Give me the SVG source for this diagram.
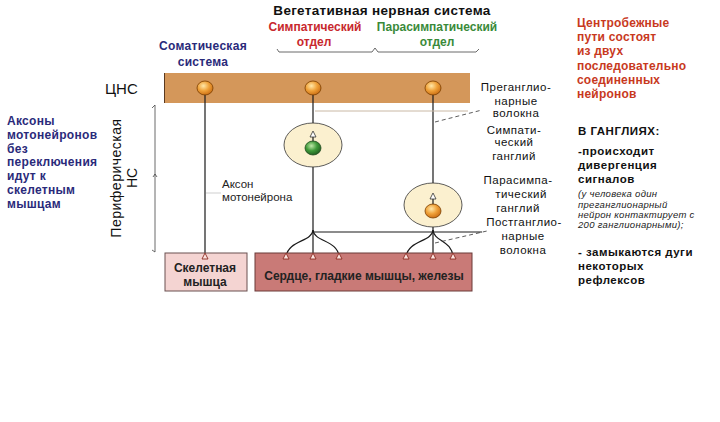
<svg xmlns="http://www.w3.org/2000/svg" width="720" height="422" viewBox="0 0 720 422">
<defs>
<radialGradient id="gOr" cx="0.4" cy="0.35" r="0.7">
<stop offset="0" stop-color="#ffe7a8"/><stop offset="0.5" stop-color="#f0a23a"/><stop offset="1" stop-color="#c86a10"/>
</radialGradient>
<radialGradient id="gGr" cx="0.4" cy="0.35" r="0.7">
<stop offset="0" stop-color="#bfe8a8"/><stop offset="0.5" stop-color="#3f9a3a"/><stop offset="1" stop-color="#1f5a1e"/>
</radialGradient>
<style>
text{font-family:"Liberation Sans",Arial,sans-serif}
.b{font-weight:bold}
.lbl{font-size:11.5px;fill:#111;text-anchor:middle;letter-spacing:0.5px}
.ax{stroke:#1a1a1a;stroke-width:1.2;fill:none}
.thin{stroke:#444;stroke-width:0.8;fill:none}
.dash{stroke:#333;stroke-width:0.8;stroke-dasharray:4 3;fill:none}
.syn{fill:#fbe3e0;stroke:#8a2a20;stroke-width:0.9}
.gang{fill:#fbf0cf;stroke:#333;stroke-width:0.8}
.ball{stroke:#7a3d00;stroke-width:0.8}
.red{fill:#c8391e;font-size:12px;font-weight:bold;letter-spacing:0.2px}
.rt{fill:#111;font-size:11.5px;font-weight:bold;letter-spacing:0.5px}
.it{fill:#222;font-size:9.5px;font-style:italic;letter-spacing:0.3px}
.nav{fill:#2a2a7a;font-size:12px;font-weight:bold;letter-spacing:0.3px}
</style>
</defs>
<rect width="720" height="422" fill="#fff"/>

<g id="title">
<text x="382" y="15" text-anchor="middle" class="b" font-size="13.5" fill="#111" letter-spacing="0.3">Вегетативная нервная система</text>
<text x="315" y="31" text-anchor="middle" class="b" font-size="12" fill="#c8282d">Симпатический</text>
<text x="314" y="46" text-anchor="middle" class="b" font-size="12" fill="#c8282d">отдел</text>
<text x="437" y="31" text-anchor="middle" class="b" font-size="12" fill="#3a8a3a">Парасимпатический</text>
<text x="437" y="46" text-anchor="middle" class="b" font-size="12" fill="#3a8a3a">отдел</text>
<path d="M277,49 L279,52 L372,52 L375,48 L378,52 L476,52 L479,49" class="thin"/>
<text x="203" y="50" text-anchor="middle" class="nav" font-size="13" letter-spacing="0.8">Соматическая</text>
<text x="203" y="66" text-anchor="middle" class="nav" font-size="13" letter-spacing="0.8">система</text>
</g>

<g id="cns">
<rect x="164" y="73" width="306" height="30" fill="#d4975a"/>
<line x1="164.5" y1="73" x2="164.5" y2="103" stroke="#5a3a20" stroke-width="1"/>
<text x="105" y="94" font-size="15" fill="#111">ЦНС</text>
</g>

<g id="pns-bracket">
<path d="M152,108 L155,105 L155,252 L152,250" class="thin"/>
<path d="M153,177 L155,174 L157,177" class="thin"/>
<text transform="translate(121,178) rotate(-90)" text-anchor="middle" font-size="14" fill="#111" letter-spacing="0.5">Периферическая</text>
<text transform="translate(137,178) rotate(-90)" text-anchor="middle" font-size="14" fill="#111">НС</text>
</g>

<g id="left-note">
<text x="7" y="125" class="nav">Аксоны</text>
<text x="7" y="139" class="nav">мотонейронов</text>
<text x="7" y="153" class="nav">без</text>
<text x="7" y="166" class="nav">переключения</text>
<text x="7" y="180" class="nav">идут  к</text>
<text x="7" y="194" class="nav">скелетным</text>
<text x="7" y="208" class="nav">мышцам</text>
</g>

<g id="connectors">
<line x1="205" y1="88" x2="205" y2="257" class="ax"/>
<line x1="313" y1="88" x2="313" y2="135" class="ax"/>
<line x1="313" y1="148" x2="313" y2="257" class="ax"/>
<line x1="433" y1="88" x2="433" y2="197" class="ax"/>
<line x1="433" y1="211" x2="433" y2="257" class="ax"/>
<path d="M313,230 C312,242 288,240 286,257" class="ax"/>
<path d="M313,230 C314,242 338,240 339,257" class="ax"/>
<path d="M433,230 C432,242 408,240 406,257" class="ax"/>
<path d="M433,230 C434,242 452,240 453,257" class="ax"/>
<line x1="313" y1="232" x2="482" y2="232" class="ax"/>
<line x1="315" y1="111" x2="468" y2="111" stroke="#c9b8a4" stroke-width="1"/>
<line x1="206" y1="193" x2="221" y2="193" stroke="#cfcfcf" stroke-width="1"/>
<line x1="435" y1="122" x2="482" y2="110" class="dash"/>
<line x1="435" y1="243" x2="487" y2="231" class="dash"/>
</g>

<g id="ganglion-symp">
<ellipse cx="313" cy="145" rx="29" ry="22" class="gang"/>
<line x1="313" y1="137" x2="313" y2="150" class="ax"/>
<path d="M313,131 L316,137 L310,137 Z" fill="#fff" stroke="#333" stroke-width="0.8"/>
<ellipse cx="313" cy="148" rx="8" ry="7" fill="url(#gGr)" stroke="#1f4a1e" stroke-width="0.8"/>
</g>

<g id="ganglion-para">
<ellipse cx="433" cy="205" rx="29" ry="22" class="gang"/>
<line x1="433" y1="199" x2="433" y2="211" class="ax"/>
<path d="M433,193 L436,199 L430,199 Z" fill="#fff" stroke="#333" stroke-width="0.8"/>
<ellipse cx="433" cy="211" rx="8" ry="7" fill="url(#gOr)" class="ball"/>
</g>

<g id="neuron-somatic"><ellipse cx="205" cy="88" rx="8" ry="7" fill="url(#gOr)" class="ball"/></g>
<g id="neuron-symp"><ellipse cx="313" cy="88" rx="8" ry="7" fill="url(#gOr)" class="ball"/></g>
<g id="neuron-para"><ellipse cx="433" cy="88" rx="8" ry="7" fill="url(#gOr)" class="ball"/></g>

<g id="axon-label">
<text x="222" y="188" font-size="11.5" fill="#222">Аксон</text>
<text x="222" y="201" font-size="11.5" fill="#222">мотонейрона</text>
</g>

<g id="box-skeletal">
<rect x="165" y="253" width="82" height="38" fill="#f4d4d2" stroke="#6a5050" stroke-width="1"/>
<text x="205" y="272" text-anchor="middle" class="b" font-size="12" fill="#222">Скелетная</text>
<text x="205" y="286" text-anchor="middle" class="b" font-size="12" fill="#222">мышца</text>
<path d="M205,253 L208,259 L202,259 Z" class="syn"/>
</g>

<g id="box-organs">
<rect x="255" y="253" width="217" height="38" fill="#c97a77" stroke="#6a3a38" stroke-width="1"/>
<text x="364" y="280" text-anchor="middle" class="b" font-size="12" fill="#222">Сердце, гладкие мышцы, железы</text>
<path d="M286,253 L289,259 L283,259 Z" class="syn"/>
<path d="M313,253 L316,259 L310,259 Z" class="syn"/>
<path d="M339,253 L342,259 L336,259 Z" class="syn"/>
<path d="M406,253 L409,259 L403,259 Z" class="syn"/>
<path d="M433,253 L436,259 L430,259 Z" class="syn"/>
<path d="M453,253 L456,259 L450,259 Z" class="syn"/>
</g>

<g id="right-labels">
<text x="516" y="91" class="lbl">Преганглио-</text>
<text x="516" y="105" class="lbl">нарные</text>
<text x="516" y="117" class="lbl">волокна</text>
<text x="514" y="134" class="lbl">Симпати-</text>
<text x="514" y="146" class="lbl">ческий</text>
<text x="514" y="160" class="lbl">ганглий</text>
<text x="518" y="184" class="lbl">Парасимпа-</text>
<text x="521" y="198" class="lbl">тический</text>
<text x="518" y="212" class="lbl">ганглий</text>
<text x="524" y="226" class="lbl">Постганглио-</text>
<text x="523" y="240" class="lbl">нарные</text>
<text x="523" y="254" class="lbl">волокна</text>
</g>

<g id="note-red">
<text x="577" y="27" class="red">Центробежные</text>
<text x="577" y="41" class="red">пути состоят</text>
<text x="577" y="55" class="red">из двух</text>
<text x="577" y="70" class="red">последовательно</text>
<text x="577" y="84" class="red">соединенных</text>
<text x="577" y="98" class="red">нейронов</text>
</g>

<g id="note-ganglia">
<text x="578" y="135" class="rt" font-size="12.5" letter-spacing="1.5">В ГАНГЛИЯХ:</text>
<text x="578" y="155" class="rt">-происходит</text>
<text x="578" y="169" class="rt">дивергенция</text>
<text x="578" y="183" class="rt">сигналов</text>
<text x="578" y="197" class="it">(у человека один</text>
<text x="578" y="208" class="it">преганглионарный</text>
<text x="578" y="218" class="it">нейрон контактирует с</text>
<text x="578" y="228" class="it">200 ганглионарными);</text>
<text x="578" y="256" class="rt" letter-spacing="0.9">- замыкаются  дуги</text>
<text x="578" y="270" class="rt">некоторых</text>
<text x="578" y="284" class="rt">рефлексов</text>
</g>
</svg>
